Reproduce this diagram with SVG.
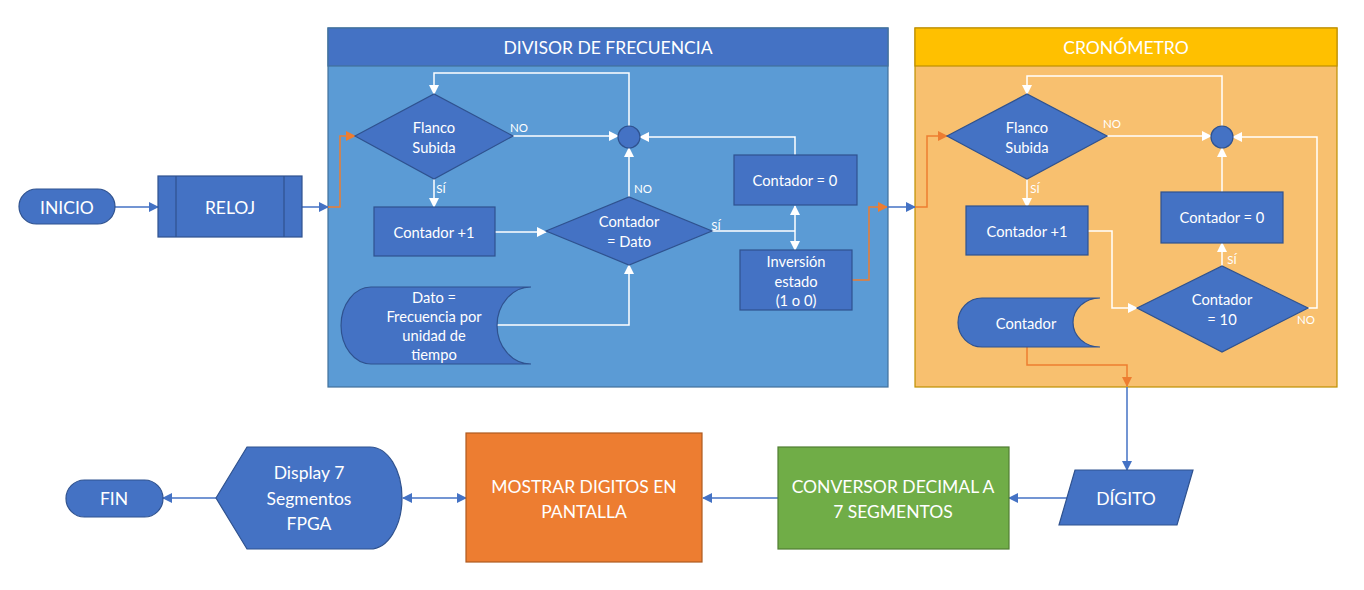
<svg xmlns="http://www.w3.org/2000/svg" width="1364" height="590" viewBox="0 0 1364 590">
<defs>
<style>
text{font-family:Lato,"Open Sans","Liberation Sans",sans-serif;fill:#fff;text-anchor:middle;dominant-baseline:central}
.n{fill:#4472C4;stroke:#2F528F;stroke-width:1.2}
.t{font-size:14.7px}
.tb{font-size:17.5px}
.hd{font-size:17.5px}
.lb{font-size:11.5px}
.cb{fill:none;stroke:#4472C4;stroke-width:1.5}
.cw{fill:none;stroke:#fff;stroke-width:1.5}
.co{fill:none;stroke:#ED7D31;stroke-width:1.5}
</style>
<marker id="ab" markerWidth="10" markerHeight="10" refX="9" refY="5" orient="auto-start-reverse" markerUnits="userSpaceOnUse"><path d="M0,0L10,5L0,10Z" fill="#4472C4"/></marker>
<marker id="aw" markerWidth="10" markerHeight="10" refX="9" refY="5" orient="auto-start-reverse" markerUnits="userSpaceOnUse"><path d="M0,0L10,5L0,10Z" fill="#fff"/></marker>
<marker id="ao" markerWidth="10" markerHeight="10" refX="9" refY="5" orient="auto-start-reverse" markerUnits="userSpaceOnUse"><path d="M0,0L10,5L0,10Z" fill="#ED7D31"/></marker>
</defs>
<rect width="1364" height="590" fill="#fff"/>

<g id="divisor">
<rect x="328" y="28" width="560" height="359" fill="#5B9BD5" stroke="#41719C" stroke-width="1.2"/>
<rect x="328" y="28" width="560" height="38" fill="#4472C4" stroke="#41719C" stroke-width="1.2"/>
<text class="hd" x="608" y="47">DIVISOR DE FRECUENCIA</text>
</g>
<g id="cronometro">
<rect x="915" y="28" width="422" height="359" fill="#F8C06F" stroke="#BF9000" stroke-width="1.2"/>
<rect x="915" y="28" width="422" height="38" fill="#FFC000" stroke="#BF9000" stroke-width="1.2"/>
<text class="hd" x="1126" y="47">CRONÓMETRO</text>
</g>

<g id="connectors">
<path class="cb" d="M115,207H158" marker-end="url(#ab)"/>
<path class="cb" d="M302,207H328" marker-end="url(#ab)"/>
<path class="co" d="M328,207H340V136H355" marker-end="url(#ao)"/>
<path class="cw" d="M513,136H618" marker-end="url(#aw)"/>
<path class="cw" d="M629,126V73H434V94" marker-end="url(#aw)"/>
<path class="cw" d="M434,179V207" marker-end="url(#aw)"/>
<path class="cw" d="M495,232H546" marker-end="url(#aw)"/>
<path class="cw" d="M629,197V148" marker-end="url(#aw)"/>
<path class="cw" d="M497,325H629V265" marker-end="url(#aw)"/>
<path class="cw" d="M712,231H795"/>
<path class="cw" d="M795,231V206" marker-end="url(#aw)"/>
<path class="cw" d="M795,231V250" marker-end="url(#aw)"/>
<path class="cw" d="M795,155V137H640" marker-end="url(#aw)"/>
<path class="co" d="M852,280H869V207H887" marker-end="url(#ao)"/>
<path class="cb" d="M887,207H915" marker-end="url(#ab)"/>
<path class="co" d="M915,207H927V136H947" marker-end="url(#ao)"/>
<path class="cw" d="M1107,136H1211" marker-end="url(#aw)"/>
<path class="cw" d="M1222,126V76H1027V94" marker-end="url(#aw)"/>
<path class="cw" d="M1027,179V207" marker-end="url(#aw)"/>
<path class="cw" d="M1088,231H1112V308H1137" marker-end="url(#aw)"/>
<path class="cw" d="M1222,266V243" marker-end="url(#aw)"/>
<path class="cw" d="M1222,192V148" marker-end="url(#aw)"/>
<path class="cw" d="M1308,308H1317V137H1233" marker-end="url(#aw)"/>
<path class="co" d="M1027,347V365H1127V386" marker-end="url(#ao)"/>
<path class="cb" d="M1127,387V470" marker-end="url(#ab)"/>
<path class="cb" d="M1067,498H1009" marker-end="url(#ab)"/>
<path class="cb" d="M778,498H703" marker-end="url(#ab)"/>
<path class="cb" d="M403,498H466" marker-start="url(#ab)" marker-end="url(#ab)"/>
<path class="cb" d="M216,498H163" marker-end="url(#ab)"/>
<text class="lb" x="519" y="127">NO</text>
<text class="lb" x="441" y="188">SÍ</text>
<text class="lb" x="643" y="188">NO</text>
<text class="lb" x="716" y="225">SÍ</text>
<text class="lb" x="1112" y="123">NO</text>
<text class="lb" x="1035" y="188">SÍ</text>
<text class="lb" x="1232" y="259">SÍ</text>
<text class="lb" x="1306" y="319">NO</text>
</g>

<g id="inicio"><rect class="n" x="19" y="189" width="96" height="35" rx="17.5"/><text class="tb" x="67" y="207">INICIO</text></g>
<g id="reloj"><rect class="n" x="158" y="176" width="144" height="61"/><path d="M176,176V237M284,176V237" stroke="#2F528F" stroke-width="1.2"/><text class="tb" x="230" y="207">RELOJ</text></g>

<g id="flanco1"><path class="n" d="M355,136L434,94L513,136L434,179Z"/><text class="t" x="434" y="127">Flanco</text><text class="t" x="434" y="147">Subida</text></g>
<g id="union1"><circle class="n" cx="629" cy="137" r="11"/></g>
<g id="contmas1"><rect class="n" x="374" y="207" width="121" height="49"/><text class="t" x="434" y="232">Contador +1</text></g>
<g id="contdato"><path class="n" d="M546,231L629,197L712,231L629,265Z"/><text class="t" x="629" y="221">Contador</text><text class="t" x="629" y="241">= Dato</text></g>
<g id="cont0a"><rect class="n" x="734" y="155" width="123" height="50"/><text class="t" x="795" y="180">Contador = 0</text></g>
<g id="inversion"><rect class="n" x="740" y="250" width="112" height="60"/><text class="t" x="796" y="261">Inversión</text><text class="t" x="796" y="281">estado</text><text class="t" x="796" y="300">(1 o 0)</text></g>
<g id="dato"><path class="n" d="M371,287H531A34,38.5 0 0 0 531,364H371A30,38.5 0 0 1 371,287Z"/><text class="t" x="434" y="297">Dato =</text><text class="t" x="434" y="316">Frecuencia por</text><text class="t" x="434" y="335">unidad de</text><text class="t" x="434" y="354">tiempo</text></g>

<g id="flanco2"><path class="n" d="M947,136L1027,94L1107,136L1027,179Z"/><text class="t" x="1027" y="127">Flanco</text><text class="t" x="1027" y="147">Subida</text></g>
<g id="union2"><circle class="n" cx="1222" cy="137" r="11"/></g>
<g id="contmas1b"><rect class="n" x="966" y="206" width="122" height="49"/><text class="t" x="1027" y="231">Contador +1</text></g>
<g id="cont0b"><rect class="n" x="1161" y="192" width="122" height="51"/><text class="t" x="1222" y="217">Contador = 0</text></g>
<g id="cont10"><path class="n" d="M1137,308L1222,266L1308,308L1222,352Z"/><text class="t" x="1222" y="299">Contador</text><text class="t" x="1222" y="319">= 10</text></g>
<g id="contador"><path class="n" d="M982,298H1100A27,24.5 0 0 0 1100,347H982A24,24.5 0 0 1 982,298Z"/><text class="t" x="1026" y="323">Contador</text></g>

<g id="digito"><path class="n" d="M1075,470H1193L1177,525H1059Z"/><text class="tb" x="1126" y="498">DÍGITO</text></g>
<g id="conversor"><rect x="778" y="447" width="231" height="102" fill="#70AD47" stroke="#507E32" stroke-width="1.2"/><text class="tb" x="893" y="486">CONVERSOR DECIMAL A</text><text class="tb" x="893" y="511">7 SEGMENTOS</text></g>
<g id="mostrar"><rect x="466" y="433" width="236" height="129" fill="#ED7D31" stroke="#AE5A21" stroke-width="1.2"/><text class="tb" x="584" y="486">MOSTRAR DIGITOS EN</text><text class="tb" x="584" y="511">PANTALLA</text></g>
<g id="display"><path class="n" d="M216,498L247,447H370A32,51 0 0 1 370,549H247Z"/><text class="tb" x="309" y="472">Display 7</text><text class="tb" x="309" y="498">Segmentos</text><text class="tb" x="309" y="523">FPGA</text></g>
<g id="fin"><rect class="n" x="66" y="480" width="97" height="37" rx="18.5"/><text class="tb" x="114" y="498">FIN</text></g>
</svg>
